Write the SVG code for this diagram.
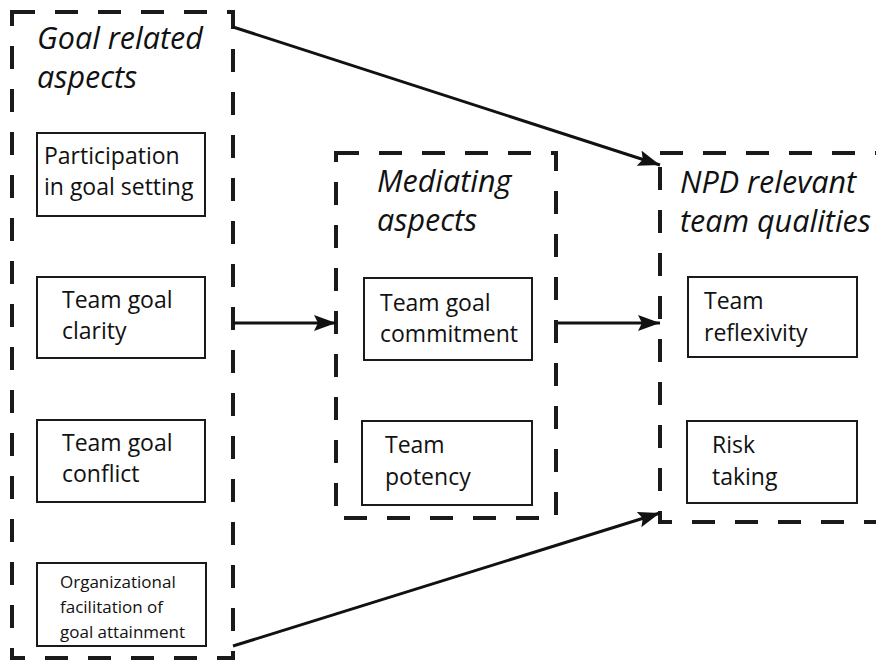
<svg xmlns="http://www.w3.org/2000/svg" width="876" height="664" viewBox="0 0 876 664">
  <style>
    .group { fill: none; stroke: #1a1a1a; stroke-width: 4; stroke-dasharray: 23 20; }
    .box { fill: #fff; stroke: #1a1a1a; stroke-width: 2; }
    .title { font-family: "Open Sans", "Liberation Sans", sans-serif; font-style: italic; font-size: 30.5px; fill: #111; }
    .label { font-family: "Open Sans", "Liberation Sans", sans-serif; font-size: 23px; fill: #111; }
    .small { font-family: "Open Sans", "Liberation Sans", sans-serif; font-size: 17px; fill: #111; }
    .edge { stroke: #111; stroke-width: 3; fill: none; marker-end: url(#arrow); }
  </style>
  <defs>
    <marker id="arrow" viewBox="0 0 22 16" refX="22" refY="8" markerWidth="22" markerHeight="16" markerUnits="userSpaceOnUse" orient="auto">
      <path d="M0,0 L22,8 L0,16 L4,8 z" fill="#111"/>
    </marker>
  </defs>
  <rect width="876" height="664" fill="#fff"/>

  <g id="goal-related">
    <rect class="group" x="12" y="12" width="221" height="646"/>
    <text class="title" x="37" y="49">Goal related</text>
    <text class="title" x="37" y="88">aspects</text>
  </g>
  <g id="participation">
    <rect class="box" x="37" y="133" width="168" height="83"/>
    <text class="label" x="44" y="164">Participation</text>
    <text class="label" x="44" y="195">in goal setting</text>
  </g>
  <g id="goal-clarity">
    <rect class="box" x="37" y="277" width="168" height="81"/>
    <text class="label" x="62" y="308">Team goal</text>
    <text class="label" x="62" y="339">clarity</text>
  </g>
  <g id="goal-conflict">
    <rect class="box" x="37" y="420" width="168" height="82"/>
    <text class="label" x="62" y="451">Team goal</text>
    <text class="label" x="62" y="482">conflict</text>
  </g>
  <g id="org-facilitation">
    <rect class="box" x="37" y="563" width="169" height="83"/>
    <text class="small" x="60" y="588">Organizational</text>
    <text class="small" x="60" y="613">facilitation of</text>
    <text class="small" x="60" y="638">goal attainment</text>
  </g>

  <g id="mediating">
    <rect class="group" x="336" y="153" width="220" height="365"/>
    <text class="title" x="377" y="192">Mediating</text>
    <text class="title" x="377" y="231">aspects</text>
  </g>
  <g id="goal-commitment">
    <rect class="box" x="364" y="278" width="168" height="82"/>
    <text class="label" x="380" y="311">Team goal</text>
    <text class="label" x="380" y="342">commitment</text>
  </g>
  <g id="potency">
    <rect class="box" x="362" y="421" width="170" height="84"/>
    <text class="label" x="385" y="453">Team</text>
    <text class="label" x="385" y="485">potency</text>
  </g>

  <g id="npd-qualities">
    <rect class="group" x="660" y="153" width="230" height="369"/>
    <text class="title" x="680" y="193">NPD relevant</text>
    <text class="title" x="680" y="232">team qualities</text>
  </g>
  <g id="reflexivity">
    <rect class="box" x="688" y="277" width="169" height="80"/>
    <text class="label" x="704" y="309">Team</text>
    <text class="label" x="704" y="341">reflexivity</text>
  </g>
  <g id="risk-taking">
    <rect class="box" x="687" y="421" width="170" height="82"/>
    <text class="label" x="712" y="453">Risk</text>
    <text class="label" x="712" y="485">taking</text>
  </g>

  <g id="connectors">
    <line class="edge" x1="233" y1="27" x2="660" y2="165"/>
    <line class="edge" x1="233" y1="323" x2="336" y2="323"/>
    <line class="edge" x1="558" y1="323" x2="660" y2="323"/>
    <line class="edge" x1="233" y1="646" x2="660" y2="513"/>
  </g>
</svg>
